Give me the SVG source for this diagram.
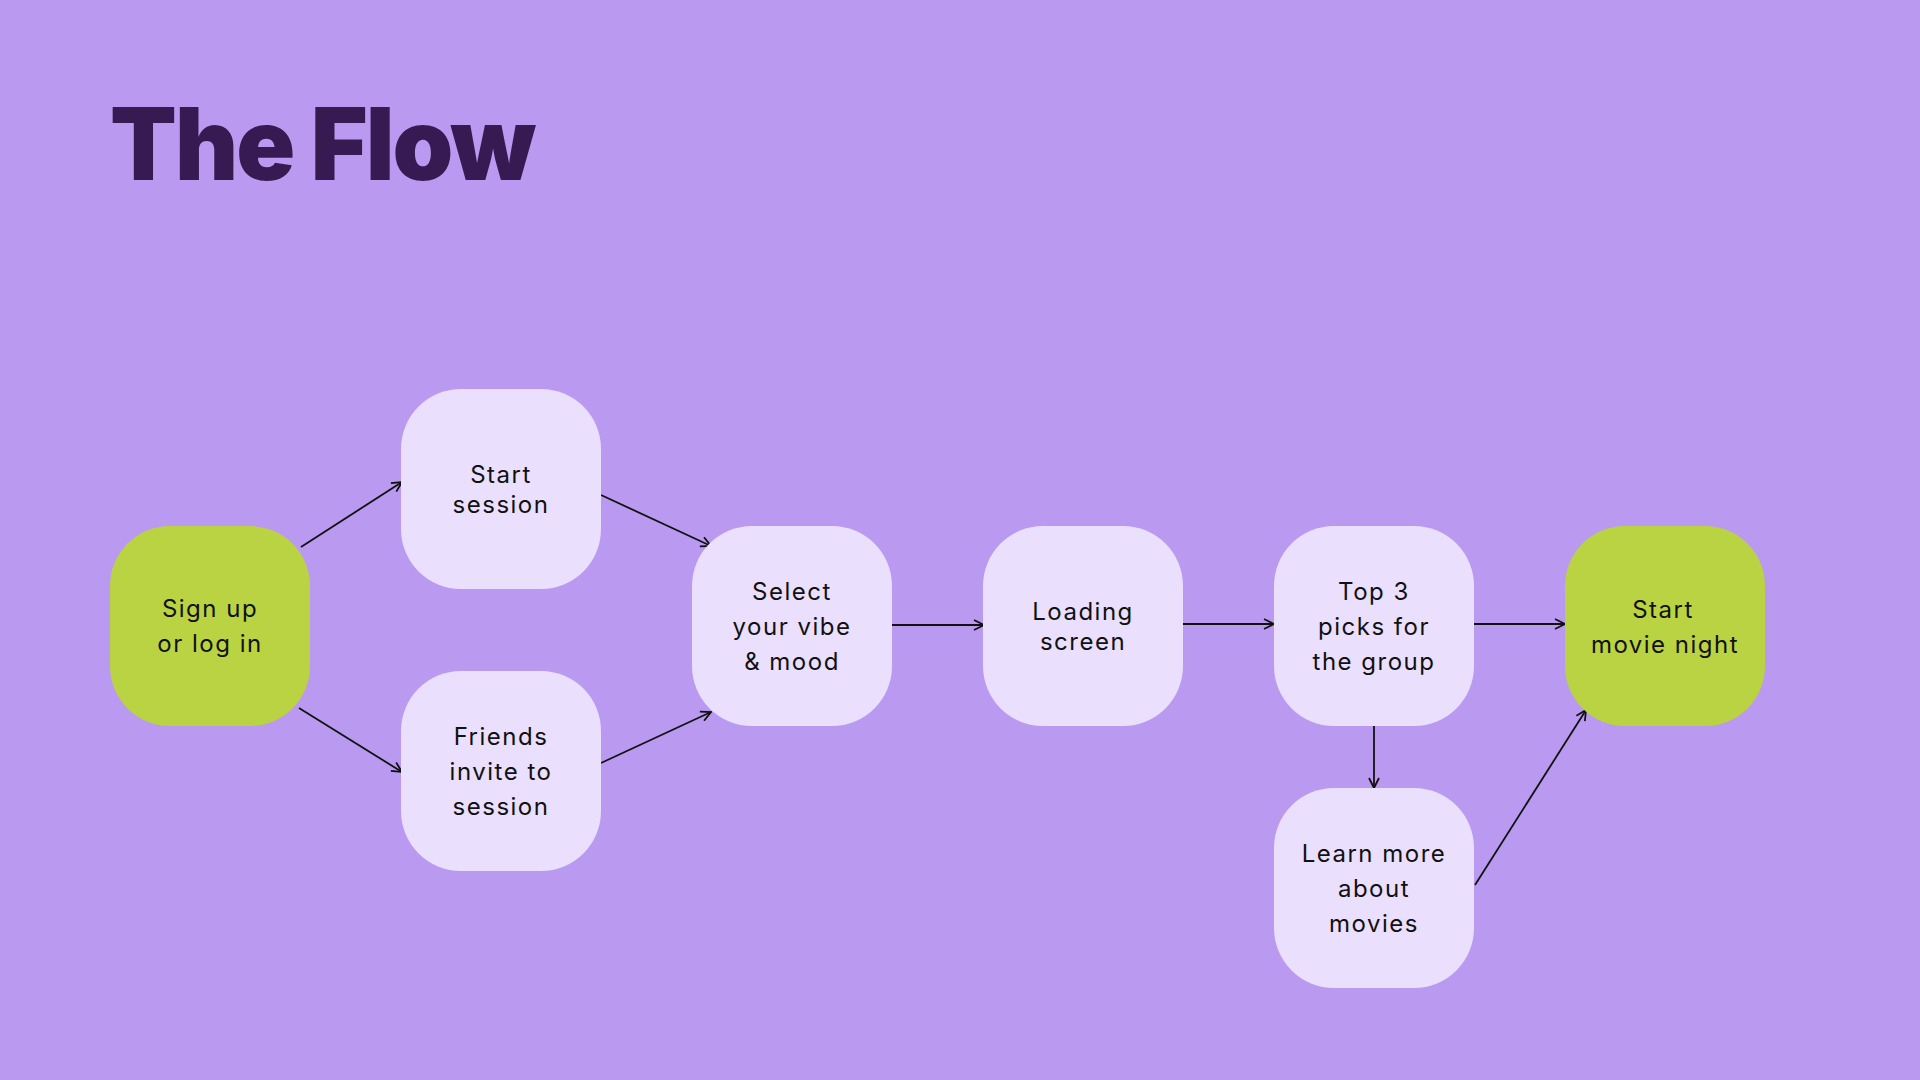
<svg xmlns="http://www.w3.org/2000/svg" width="1920" height="1080" viewBox="0 0 1920 1080">
<defs>
<style>
.bg{fill:#BA9AF1}
.n{fill:#EADFFD}
.g{fill:#BAD342}
.t{font-family:Inter,"Open Sans","DejaVu Sans",sans-serif;font-size:24px;letter-spacing:1.5px;fill:#111;text-anchor:middle}
.title{font-family:Inter,"DejaVu Sans",sans-serif;font-weight:900;font-size:100px;fill:#371A52;letter-spacing:-2px}
.c{stroke:#111;stroke-width:1.8;fill:none;marker-end:url(#ah)}
</style>
<marker id="ah" viewBox="0 0 12 12" refX="11" refY="6" markerWidth="12" markerHeight="12" markerUnits="userSpaceOnUse" orient="auto">
<path d="M1,1 L11,6 L1,11" fill="none" stroke="#111" stroke-width="1.8"/>
</marker>
</defs>
<rect class="bg" x="0" y="0" width="1920" height="1080"/>
<text class="title" x="110" y="180" textLength="424" lengthAdjust="spacingAndGlyphs">The Flow</text>
<g id="connectors">
<line class="c" x1="301" y1="547" x2="402" y2="482"/>
<line class="c" x1="299" y1="708" x2="402" y2="772"/>
<line class="c" x1="601" y1="495" x2="711" y2="546"/>
<line class="c" x1="601" y1="763" x2="711" y2="712"/>
<line class="c" x1="892" y1="625" x2="984" y2="625"/>
<line class="c" x1="1183" y1="624" x2="1274" y2="624"/>
<line class="c" x1="1474" y1="624" x2="1565" y2="624"/>
<line class="c" x1="1374" y1="726" x2="1374" y2="788"/>
<line class="c" x1="1475" y1="885" x2="1586" y2="710"/>
</g>
<g id="signup"><rect class="g" x="110" y="526" width="200" height="200" rx="60"/>
<text class="t" x="210" y="617">Sign up</text><text class="t" x="210" y="652">or log in</text></g>
<g id="startsession"><rect class="n" x="401" y="389" width="200" height="200" rx="60"/>
<text class="t" x="501" y="483">Start</text><text class="t" x="501" y="513">session</text></g>
<g id="friends"><rect class="n" x="401" y="671" width="200" height="200" rx="60"/>
<text class="t" x="501" y="745">Friends</text><text class="t" x="501" y="780">invite to</text><text class="t" x="501" y="815">session</text></g>
<g id="select"><rect class="n" x="692" y="526" width="200" height="200" rx="60"/>
<text class="t" x="792" y="600">Select</text><text class="t" x="792" y="635">your vibe</text><text class="t" x="792" y="670">&amp; mood</text></g>
<g id="loading"><rect class="n" x="983" y="526" width="200" height="200" rx="60"/>
<text class="t" x="1083" y="620">Loading</text><text class="t" x="1083" y="650">screen</text></g>
<g id="top3"><rect class="n" x="1274" y="526" width="200" height="200" rx="60"/>
<text class="t" x="1374" y="600">Top 3</text><text class="t" x="1374" y="635">picks for</text><text class="t" x="1374" y="670">the group</text></g>
<g id="startmovie"><rect class="g" x="1565" y="526" width="200" height="200" rx="60"/>
<text class="t" x="1663" y="618">Start</text><text class="t" x="1665" y="653">movie night</text></g>
<g id="learnmore"><rect class="n" x="1274" y="788" width="200" height="200" rx="60"/>
<text class="t" x="1374" y="862">Learn more</text><text class="t" x="1374" y="897">about</text><text class="t" x="1374" y="932">movies</text></g>
</svg>
